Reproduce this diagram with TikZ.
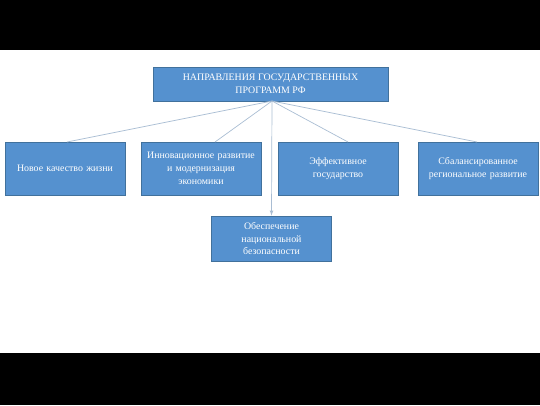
\documentclass[tikz,border=0pt]{standalone}
\usepackage{fontspec}
\setmainfont{Liberation Serif}
\begin{document}
\begin{tikzpicture}[x=1pt,y=-1pt,
  box/.style={draw=boxline,fill=boxfill,line width=0.8pt,text=white,font=\fontsize{9.9}{12.8}\selectfont,align=center,inner sep=2pt},
  conn/.style={draw=connc,line width=0.7pt}]
\definecolor{boxfill}{HTML}{5591CF}
\definecolor{boxline}{HTML}{41719C}
\definecolor{connc}{HTML}{A9BDD3}
\useasboundingbox (0,0) rectangle (540,405);
\fill[black] (0,0) rectangle (540,50);
\fill[black] (0,353) rectangle (540,405);
\node[box,minimum width=235pt,minimum height=34pt] (top) at (270.5,84) {НАПРАВЛЕНИЯ ГОСУДАРСТВЕННЫХ\\ПРОГРАММ РФ};
\node[box,minimum width=120pt,minimum height=53pt,text width=116pt] (b1) at (65,168.5) {Новое качество жизни};
\node[box,minimum width=118pt,minimum height=53pt,text width=116pt] (b2) at (201,168.5) {Инновационное развитие\\и модернизация\\экономики};
\node[box,minimum width=120pt,minimum height=53pt,text width=116pt] (b3) at (338,168.5) {Эффективное\\государство};
\node[box,minimum width=120pt,minimum height=53pt,text width=116pt] (b4) at (478,168.5) {Сбалансированное\\региональное развитие};
\node[box,minimum width=119pt,minimum height=45pt,text width=116pt] (b5) at (271.5,238.5) {Обеспечение\\национальной\\безопасности};
\coordinate (src) at (272,101);
\coordinate (e1) at (67,142);
\coordinate (e2) at (215,142);
\coordinate (e3) at (348,142);
\coordinate (e4) at (477,142);
\draw[conn] (src) -- (e1);
\draw[conn] (src) -- (e2);
\draw[conn] (src) -- (e3);
\draw[conn] (src) -- (e4);
\draw[conn,-latex] (src) -- (b5.north);
\end{tikzpicture}
\end{document}
